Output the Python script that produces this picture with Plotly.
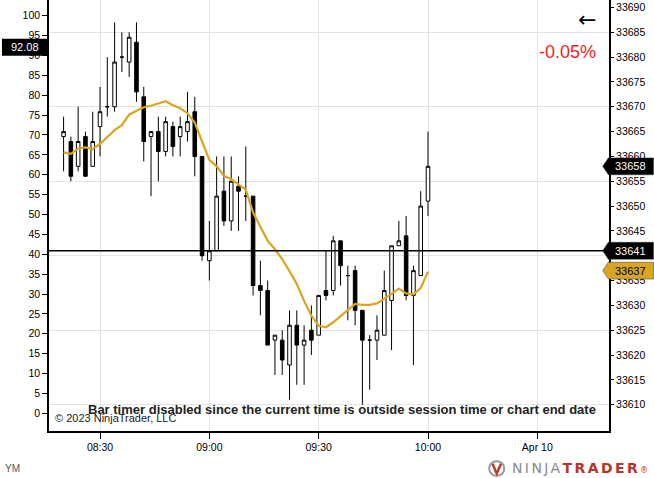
import plotly.graph_objects as go

# Barras de 2 minutos del YM
day = "2023-04-07 "
times = ["08:20", "08:22", "08:24", "08:26", "08:28", "08:30", "08:32", "08:34", "08:36", "08:38",
         "08:40", "08:42", "08:44", "08:46", "08:48", "08:50", "08:52", "08:54", "08:56", "08:58",
         "09:00", "09:02", "09:04", "09:06", "09:08", "09:10", "09:12", "09:14", "09:16", "09:18",
         "09:20", "09:22", "09:24", "09:26", "09:28", "09:30", "09:32", "09:34", "09:36", "09:38",
         "09:40", "09:42", "09:44", "09:46", "09:48", "09:50", "09:52", "09:54", "09:56", "09:58",
         "10:00"]
opens = [33664, 33663, 33658, 33664, 33658, 33666, 33670, 33670, 33680, 33679,
         33683, 33672, 33664, 33665, 33661, 33666, 33664, 33665, 33669, 33660,
         33639, 33641, 33653, 33647, 33654, 33652, 33652, 33634, 33633, 33623,
         33623, 33618, 33626, 33622, 33625, 33624, 33633, 33633, 33643, 33636,
         33637, 33629, 33623, 33623, 33624, 33631, 33642, 33644, 33632, 33636,
         33651]
highs = [33668, 33664, 33670, 33665, 33669, 33674, 33680, 33687, 33685, 33685,
         33687, 33674, 33665, 33668, 33668, 33667, 33668, 33673, 33672, 33660,
         33647, 33660, 33660, 33660, 33656, 33662, 33652, 33639, 33635, 33624,
         33625, 33629, 33629, 33626, 33630, 33632, 33641, 33644, 33643, 33638,
         33638, 33629, 33624, 33628, 33637, 33642, 33647, 33648, 33638, 33653,
         33665]
lows = [33657, 33655, 33657, 33656, 33658, 33660, 33668, 33669, 33677, 33676,
        33671, 33659, 33652, 33655, 33660, 33660, 33660, 33663, 33656, 33639,
        33635, 33641, 33646, 33645, 33645, 33647, 33632, 33628, 33622, 33616,
        33616, 33611, 33614, 33614, 33620, 33624, 33631, 33632, 33634, 33627,
        33626, 33610, 33613, 33619, 33624, 33621, 33642, 33631, 33618, 33636,
        33648]
closes = [33665, 33656, 33663, 33656, 33663, 33669, 33670, 33679, 33680, 33684,
          33673, 33663, 33665, 33661, 33667, 33662, 33666, 33667, 33660, 33640,
          33641, 33652, 33647, 33655, 33653, 33652, 33634, 33633, 33622, 33624,
          33619, 33626, 33622, 33623, 33623, 33632, 33632, 33643, 33638, 33636,
          33629, 33623, 33623, 33625, 33633, 33642, 33643, 33632, 33637, 33650,
          33658]
# Media móvil (línea dorada)
ma_values = [33660.8, 33660.5, 33661.6, 33661.8, 33661.5, 33662.5, 33663.9, 33665.3, 33666.3, 33668.4,
             33669.2, 33669.9, 33670.2, 33670.7, 33671.1, 33670.3, 33669.7, 33668.7, 33666.8, 33663.0,
             33659.3, 33658.0, 33656.1, 33655.4, 33654.3, 33653.3, 33648.7, 33645.7, 33643.0, 33641.3,
             33639.3, 33636.9, 33634.3, 33630.9, 33627.9, 33625.9, 33625.6, 33626.6, 33627.9, 33629.2,
             33630.3, 33630.1, 33630.1, 33630.4, 33631.3, 33632.3, 33633.4, 33632.4, 33632.2, 33633.5,
             33636.8]

# Marcadores de precio en el eje derecho
marker_prices = [33658, 33641, 33637]
marker_fills = ["black", "black", "#DAA520"]
marker_text = ["white", "white", "black"]
price_line = 33641
left_value = 92.08

tick_times = ["08:30", "09:00", "09:30", "10:00", "10:30"]
tick_labels = ["08:30", "09:00", "09:30", "10:00", "Apr 10"]
price_ticks = [33610, 33615, 33620, 33625, 33630, 33635, 33640, 33645, 33650,
               33655, 33660, 33665, 33670, 33675, 33680, 33685, 33690]

FONT = "Liberation Sans, Arial, sans-serif"
price_range = [33604.7, 33691.5]
left_range = [-4.45, 103.95]

x = [day + t for t in times]

fig = go.Figure()
fig.add_trace(go.Candlestick(
    x=x, open=opens, high=highs, low=lows, close=closes,
    increasing=dict(line=dict(color="black", width=1), fillcolor="white"),
    decreasing=dict(line=dict(color="black", width=1), fillcolor="black"),
    whiskerwidth=0, showlegend=False, name="YM"))
fig.add_trace(go.Scatter(x=x, y=ma_values, mode="lines", yaxis="y3",
                         line=dict(color="#DAA520", width=2.2), showlegend=False))

shapes = [dict(type="line", xref="paper", yref="y", x0=0, x1=1, y0=price_line, y1=price_line,
               line=dict(color="black", width=1.3), layer="above")]
annotations = []
h = 1.7
for p, fc, tc in zip(marker_prices, marker_fills, marker_text):
    path = (f"M 0.9888,{p} L 0.9988,{p + h} L 1.0795,{p + h} "
            f"L 1.0795,{p - h} L 0.9988,{p - h} Z")
    shapes.append(dict(type="path", xref="paper", yref="y", path=path,
                       fillcolor=fc, line=dict(color="#333", width=0.5), layer="above"))
    annotations.append(dict(x=1.039, y=p, xref="paper", yref="y", text=str(p),
                            font=dict(family=FONT, size=11, color=tc)))

# Caja del valor a la izquierda
shapes.append(dict(type="rect", xref="paper", yref="y2", x0=-0.084, x1=0, y0=left_value - 2.15,
                   y1=left_value + 2.15, fillcolor="black", line=dict(width=0), layer="above"))
annotations.append(dict(x=-0.0425, y=left_value, xref="paper", yref="y2", text=f"{left_value:.2f}",
                        font=dict(family=FONT, size=11, color="white")))

# Logo
shapes.append(dict(type="circle", xref="paper", yref="paper", x0=0.786, x1=0.813, y0=-0.104, y1=-0.07,
                   line=dict(color="#999", width=2)))
shapes.append(dict(type="path", xref="paper", yref="paper",
                   path="M 0.792,-0.076 L 0.7995,-0.099 L 0.807,-0.076",
                   line=dict(color="#c0392b", width=2.5)))

annotations += [
    dict(x=0.960, y=0.954, text="←", font=dict(family="DejaVu Sans", size=22, color="black")),
    dict(x=0.925, y=0.879, text="-0.05%", font=dict(family=FONT, size=18, color="#ff1a1a")),
    dict(x=0.0066, y=0.030, xanchor="left", text="© 2023 NinjaTrader, LLC",
         font=dict(family=FONT, size=11, color="#222")),
    dict(x=0.523, y=0.049,
         text="<b>Bar timer disabled since the current time is outside session time or chart end date</b>",
         font=dict(family=FONT, size=13, color="#222")),
    dict(x=-0.0827, y=-0.086, xanchor="left", text="YM", font=dict(family=FONT, size=10, color="#555")),
    dict(x=0.824, y=-0.086, xanchor="left",
         text='<span style="color:#8a8a8a;letter-spacing:2.4px">NINJA</span>'
              '<b><span style="color:#b8342a;letter-spacing:2.4px">TRADER</span></b>'
              '<span style="color:#b8342a;font-size:8px">®</span>',
         font=dict(family="DejaVu Sans", size=14)),
]
for a in annotations:
    a.setdefault("xref", "paper")
    a.setdefault("yref", "paper")
    a.setdefault("xanchor", "center")
    a.setdefault("yanchor", "middle")
    a["showarrow"] = False

fig.update_layout(
    width=654, height=478,
    margin=dict(l=49, r=45, t=0, b=47),
    plot_bgcolor="white", paper_bgcolor="white",
    font=dict(family=FONT, size=10, color="black"),
    showlegend=False,
    xaxis=dict(type="date", range=[day + "08:16:00", day + "10:49:40"],
               tickvals=[day + t for t in tick_times], ticktext=tick_labels,
               ticks="outside", ticklen=6, tickcolor="black",
               showgrid=True, gridcolor="#e3e3e3", showline=True, linecolor="black", linewidth=1.5,
               rangeslider=dict(visible=False), tickfont=dict(size=10.5)),
    yaxis=dict(range=price_range, side="right", tick0=33610, dtick=15, showgrid=True,
               gridcolor="#e3e3e3", showticklabels=False, ticks="", zeroline=False,
               showline=True, linecolor="black", linewidth=1.5),
    yaxis3=dict(range=price_range, overlaying="y", side="right", tickvals=price_ticks,
                tickformat="d", showgrid=False, zeroline=False, ticks="outside", ticklen=4,
                tickcolor="black", showline=False, tickfont=dict(size=10.5)),
    yaxis2=dict(range=left_range, overlaying="y", side="left", tick0=0, dtick=5,
                showgrid=False, zeroline=False, ticks="outside", ticklen=5, tickcolor="black",
                showline=True, linecolor="black", linewidth=1.5, tickfont=dict(size=10.5)),
    shapes=shapes,
    annotations=annotations,
)

fig.write_html("out.html", config={"displayModeBar": False},
               post_script="document.body.style.margin='0px';")
